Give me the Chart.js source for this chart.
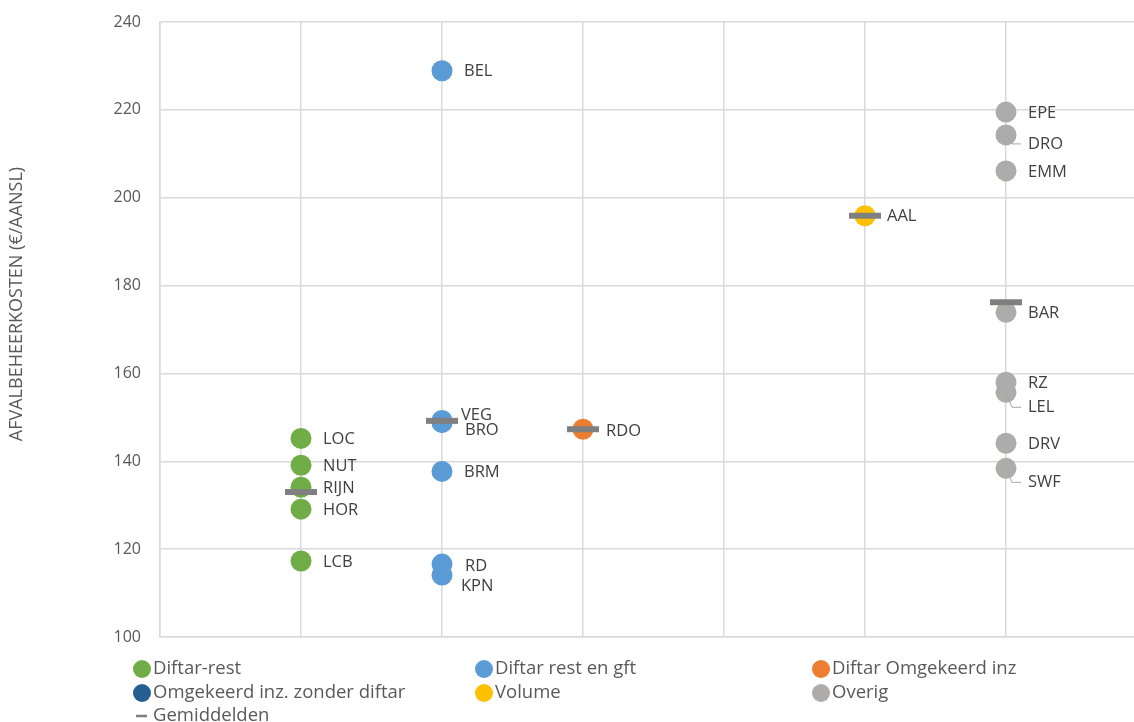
<!DOCTYPE html>
<html>
<head>
<meta charset="utf-8">
<script src="https://cdn.jsdelivr.net/npm/chart.js@4/dist/chart.umd.min.js"></script>
<style>
html,body{margin:0;padding:0;background:#fff;overflow:hidden;}
#wrap{width:1169px;height:722px;position:relative;}
</style>
</head>
<body>
<div id="wrap"><canvas id="c"></canvas></div>
<script>
// ---- data ----
const categories = ["Diftar-rest","Diftar rest en gft","Diftar Omgekeerd inz","Omgekeerd inz. zonder diftar","Volume","Overig"];
const categoryX = [1,2,3,4,5,6];

const diftarRestNames = ["LOC","NUT","RIJN","HOR","LCB"];
const diftarRestValues = [145.2,139.1,134.1,129.1,117.3];

const diftarGftNames = ["BEL","VEG","BRO","BRM","RD","KPN"];
const diftarGftValues = [228.9,149.3,148.8,137.7,116.6,114.1];

const omgekeerdNames = ["RDO"];
const omgekeerdValues = [147.3];

const zonderDiftarNames = [];
const zonderDiftarValues = [];

const volumeNames = ["AAL"];
const volumeValues = [195.9];

const overigNames = ["DRO","EPE","EMM","BAR","LEL","RZ","DRV","SWF"];
const overigValues = [214.3,219.5,206.1,173.9,155.7,158.0,144.1,138.4];

const meanNames = ["Gemiddelden"];
const meanValues = [133.0,149.2,147.3,null,195.9,176.2];

const yTicks = [100,120,140,160,180,200,220,240];
const yTitle = "AFVALBEHEERKOSTEN (€/AANSL)";

// ---- styles ----
const colors = ["#70AD47","#5B9BD5","#ED7D31","#255E91","#FFC000","#AEABAB"];
const FONT = "'Open Sans', 'Liberation Sans', sans-serif";
const labelOffsets = {
  VEG:{dx:19,dy:-5}, BRO:{dx:23,dy:8}, RD:{dx:23,dy:2}, KPN:{dx:19,dy:11},
  RDO:{dx:23,dy:2}, DRO:{dy:9,leader:true}, LEL:{dy:15,leader:true}, SWF:{dy:14,leader:true}
};

const seriesNames = [diftarRestNames,diftarGftNames,omgekeerdNames,zonderDiftarNames,volumeNames,overigNames];
const seriesValues = [diftarRestValues,diftarGftValues,omgekeerdValues,zonderDiftarValues,volumeValues,overigValues];

const datasets = categories.map((cat,i)=>({
  label: cat,
  data: seriesValues[i].map(v=>({x:categoryX[i],y:v})),
  names: seriesNames[i],
  backgroundColor: colors[i],
  borderColor: colors[i],
  borderWidth: 0,
  pointRadius: 10.5,
  pointHoverRadius: 10.5,
  order: 1
}));
datasets.push({
  label: meanNames[0],
  data: meanValues.map((v,i)=>v===null?null:({x:categoryX[i],y:v})).filter(d=>d),
  pointStyle: 'line',
  pointRadius: 16,
  pointHoverRadius: 16,
  borderColor: '#7F7F7F',
  backgroundColor: '#7F7F7F',
  borderWidth: 6,
  order: 0
});

const labelPlugin = {
  id:'labels',
  afterDatasetsDraw(chart){
    const ctx = chart.ctx;
    ctx.save();
    ctx.font = "16.5px " + FONT;
    ctx.fillStyle = "#404040";
    ctx.textBaseline = "middle";
    ctx.textAlign = "left";
    chart.data.datasets.forEach((ds,di)=>{
      if(!ds.names) return;
      const meta = chart.getDatasetMeta(di);
      meta.data.forEach((pt,i)=>{
        const name = ds.names[i];
        const o = labelOffsets[name] || {};
        const dx = o.dx!==undefined?o.dx:22;
        const dy = o.dy!==undefined?o.dy:1;
        if(o.leader){
          ctx.strokeStyle = "#A6A6A6";
          ctx.lineWidth = 1;
          ctx.beginPath();
          ctx.moveTo(pt.x, pt.y);
          ctx.lineTo(pt.x+6, pt.y+dy);
          ctx.lineTo(pt.x+dx-7, pt.y+dy);
          ctx.stroke();
        }
        ctx.fillText(name, pt.x+dx, pt.y+dy);
      });
    });
    ctx.restore();
  }
};

const decorPlugin = {
  id:'decor',
  afterDraw(chart){
    const ctx = chart.ctx;
    ctx.save();
    // y axis title
    ctx.translate(17, 304);
    ctx.rotate(-Math.PI/2);
    ctx.font = "18px " + FONT;
    ctx.fillStyle = "#595959";
    ctx.textAlign = "center";
    ctx.textBaseline = "middle";
    ctx.fillText(yTitle, 0, 0);
    ctx.restore();
    // legend
    ctx.save();
    ctx.font = "18.5px " + FONT;
    ctx.fillStyle = "#595959";
    ctx.textBaseline = "middle";
    ctx.textAlign = "left";
    const colX = [142,484,821];
    const rowY = [669,693,716];
    chart.data.datasets.forEach((ds,i)=>{
      const cx = colX[i%3], cy = rowY[Math.floor(i/3)];
      if(ds.pointStyle==='line'){
        ctx.strokeStyle = ds.borderColor;
        ctx.lineWidth = 2.5;
        ctx.beginPath();
        ctx.moveTo(cx-6, cy);
        ctx.lineTo(cx+5, cy);
        ctx.stroke();
      } else {
        ctx.fillStyle = ds.backgroundColor;
        ctx.beginPath();
        ctx.arc(cx, cy, 9, 0, Math.PI*2);
        ctx.fill();
      }
      ctx.fillStyle = "#595959";
      ctx.fillText(ds.label, cx+11, cy);
    });
    ctx.restore();
  }
};

new Chart(document.getElementById('c'), {
  type:'scatter',
  data:{datasets},
  options:{
    responsive:true,
    maintainAspectRatio:false,
    animation:false,
    events:[],
    layout:{padding:{left:0,right:0,top:21,bottom:85}},
    plugins:{legend:{display:false},tooltip:{enabled:false}},
    scales:{
      x:{
        type:'linear',
        min:0, max:7,
        afterBuildTicks(scale){ scale.ticks = [0,1,2,3,4,5,6,7].map(v=>({value:v})); },
        afterFit(scale){ scale.height = 0; scale.paddingLeft = 0; scale.paddingRight = 0; scale.paddingTop = 0; scale.paddingBottom = 0; },
        ticks:{display:false},
        grid:{color:'#D9D9D9',lineWidth:1.5,drawTicks:false},
        border:{color:'#D9D9D9',width:1.5}
      },
      y:{
        min:100, max:240,
        afterBuildTicks(scale){ scale.ticks = yTicks.map(v=>({value:v})); },
        afterFit(scale){ scale.width = 160; scale.paddingTop = 0; scale.paddingBottom = 0; scale.paddingLeft = 0; scale.paddingRight = 0; },
        ticks:{color:'#595959',font:{family:FONT,size:16},padding:19},
        grid:{color:'#D9D9D9',lineWidth:1.5,drawTicks:false},
        border:{color:'#D9D9D9',width:1.5}
      }
    }
  },
  plugins:[labelPlugin, decorPlugin]
});
</script>
</body>
</html>
